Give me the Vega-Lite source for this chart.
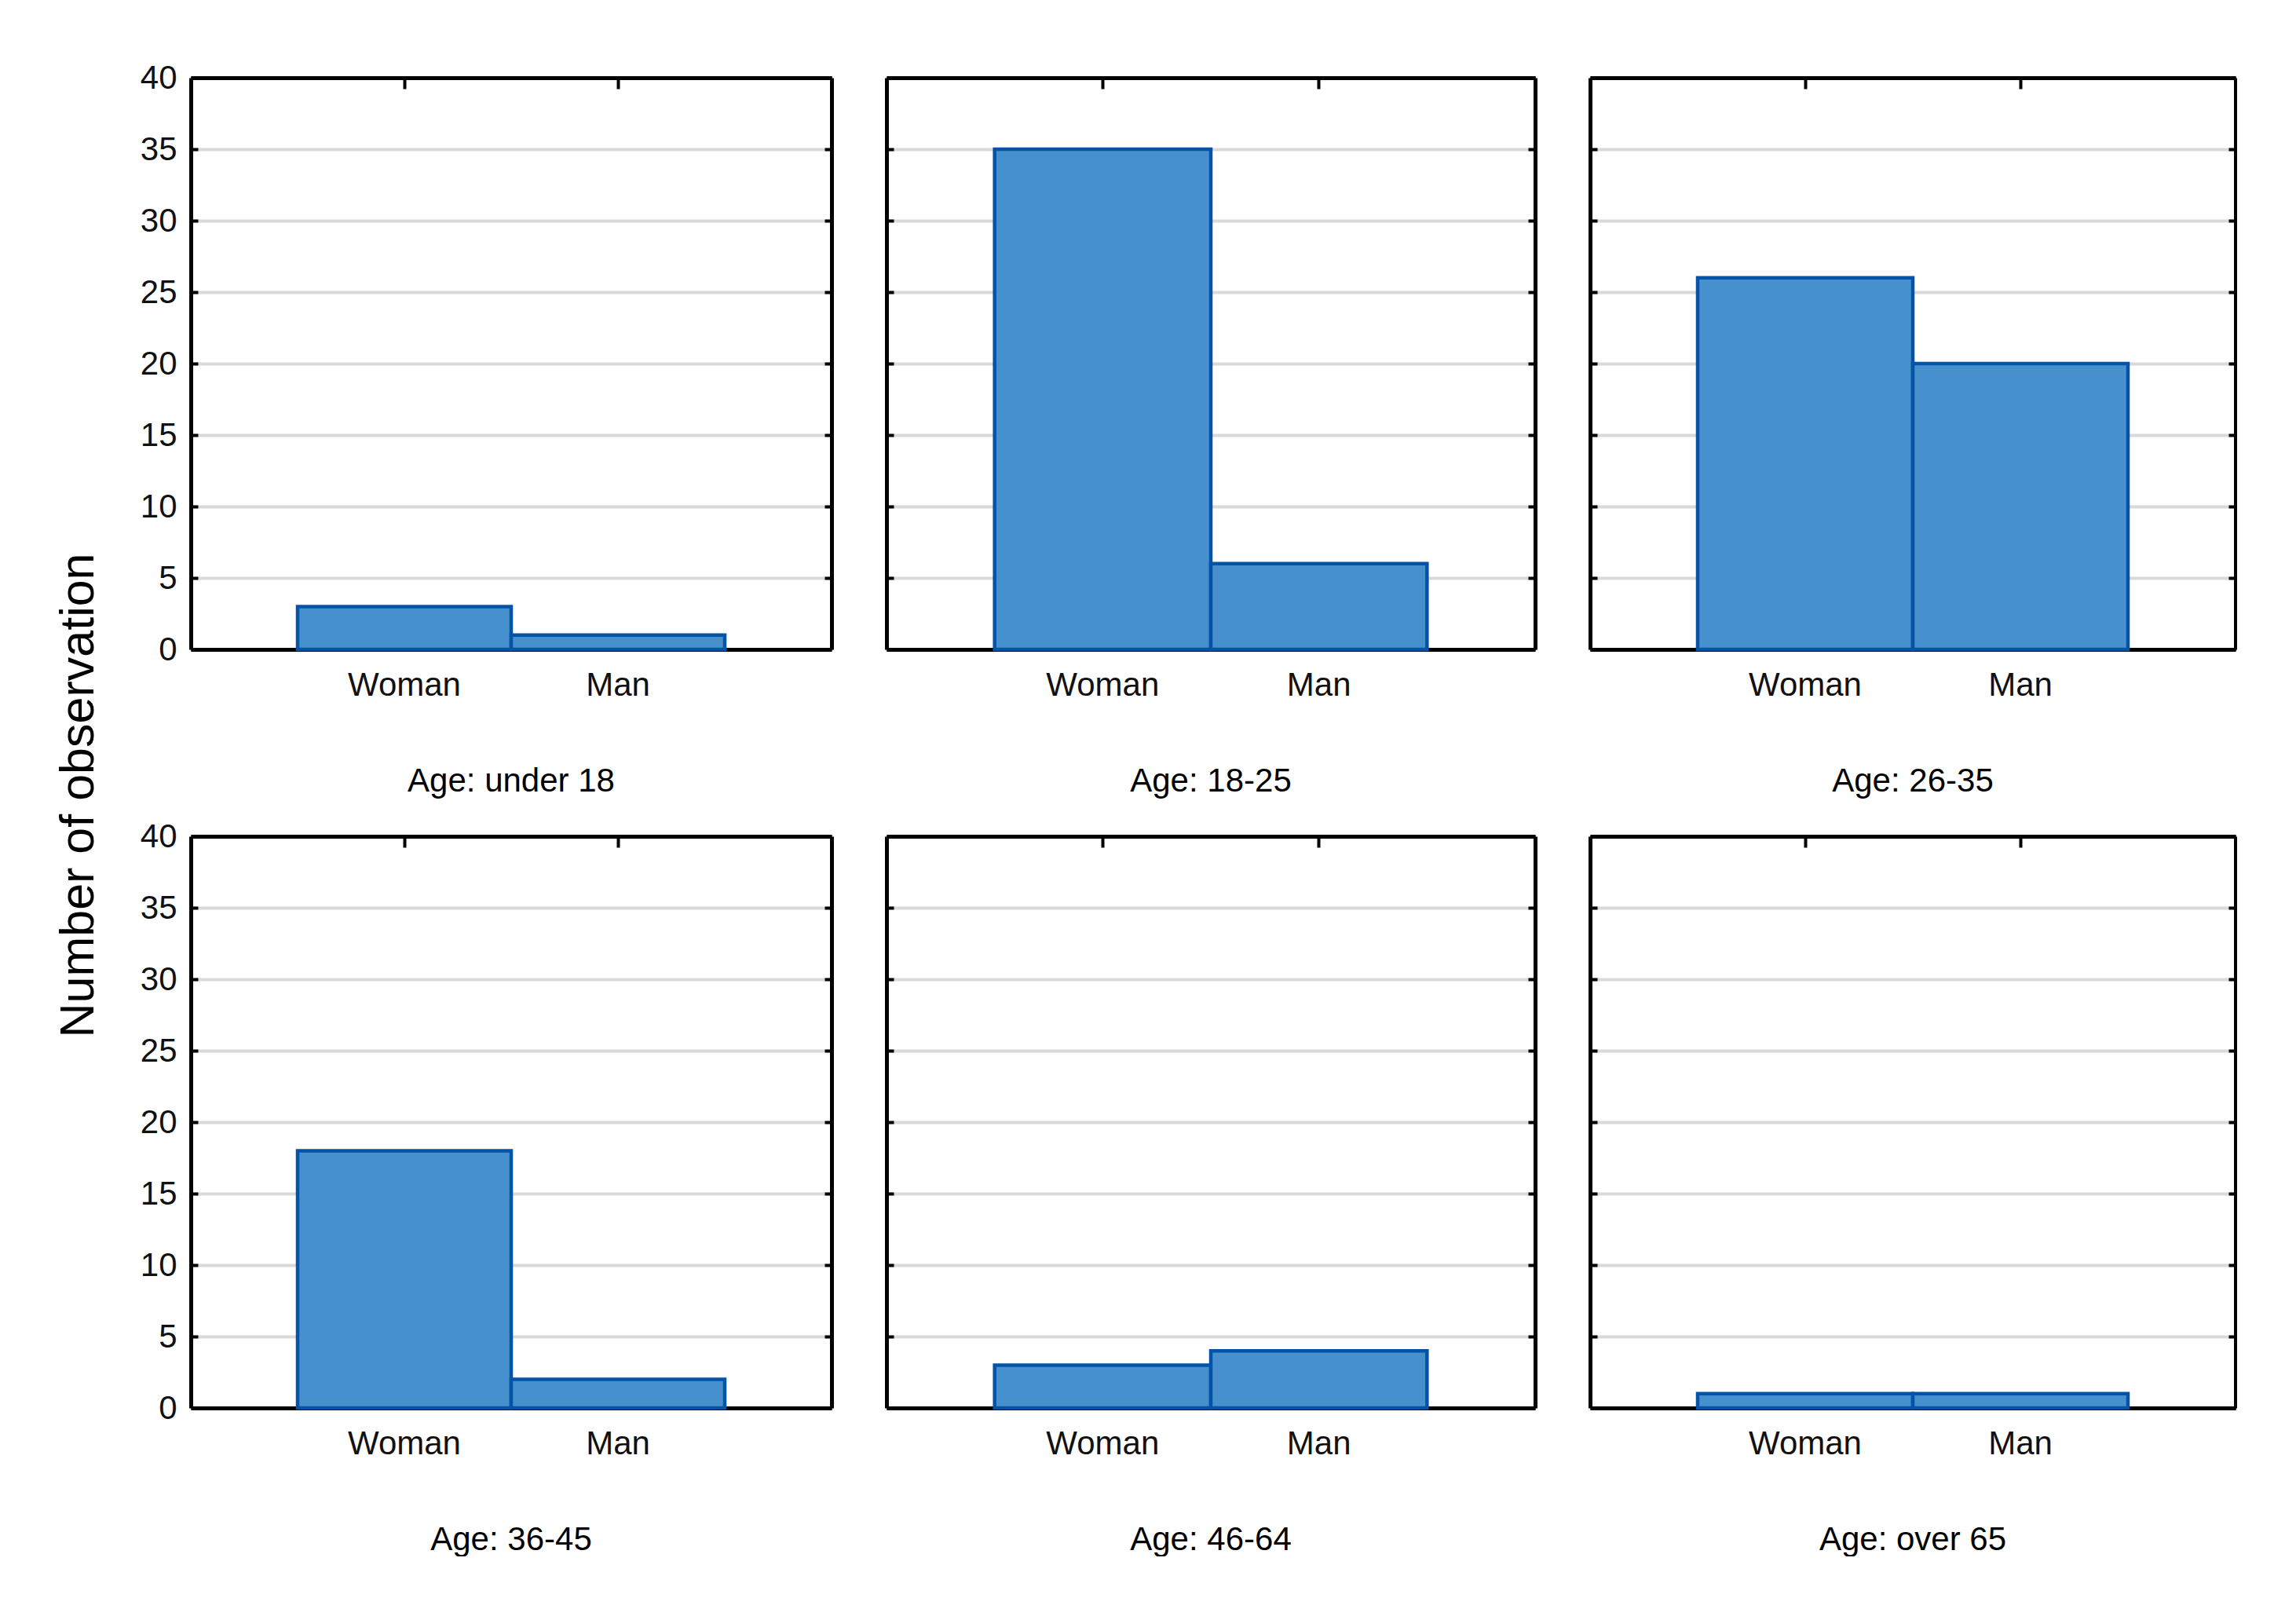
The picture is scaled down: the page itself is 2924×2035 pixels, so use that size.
{
  "$schema": "https://vega.github.io/schema/vega-lite/v6.json",
  "background": "white",
  "padding": {"left": 70, "top": 78, "right": 0, "bottom": 0},
  "title": {"text": "Number of observation", "orient": "left", "anchor": "middle", "font": "Liberation Sans", "fontSize": 61, "fontWeight": "normal", "color": "#000", "offset": 46, "dx": 17},
  "data": {"values": [
    {"age": "under 18", "gender": "Woman", "count": 3},
    {"age": "under 18", "gender": "Man", "count": 1},
    {"age": "18-25", "gender": "Woman", "count": 35},
    {"age": "18-25", "gender": "Man", "count": 6},
    {"age": "26-35", "gender": "Woman", "count": 26},
    {"age": "26-35", "gender": "Man", "count": 20},
    {"age": "36-45", "gender": "Woman", "count": 18},
    {"age": "36-45", "gender": "Man", "count": 2},
    {"age": "46-64", "gender": "Woman", "count": 3},
    {"age": "46-64", "gender": "Man", "count": 4},
    {"age": "over 65", "gender": "Woman", "count": 1},
    {"age": "over 65", "gender": "Man", "count": 1}
  ]},
  "spacing": 28,
  "vconcat": [
    {"hconcat": [
      {"title": "Age: under 18", "transform": [{"filter": "datum.age === 'under 18'"}], "width": 816, "height": 728,
       "layer": [
        {"mark": {"type": "bar", "fill": "#4690cd", "stroke": "#0553a6", "strokeWidth": 4.5},
         "encoding": {"x": {"field": "gender", "type": "nominal", "sort": ["Woman", "Man"], "scale": {"paddingInner": 0, "paddingOuter": 0.5}, "axis": {"orient": "bottom"}},
                      "y": {"field": "count", "type": "quantitative", "scale": {"domain": [0, 40], "nice": false}, "axis": {"orient": "left", "values": [0,5,10,15,20,25,30,35,40], "labels": true}}}},
        {"mark": {"type": "bar", "opacity": 0},
         "encoding": {"x": {"field": "gender", "type": "nominal", "sort": ["Woman", "Man"], "axis": {"orient": "top"}},
                      "y": {"field": "count", "type": "quantitative", "axis": {"orient": "right", "values": [0,5,10,15,20,25,30,35,40]}}}}
       ],
       "resolve": {"axis": {"x": "independent", "y": "independent"}}},
      {"title": "Age: 18-25", "transform": [{"filter": "datum.age === '18-25'"}], "width": 826, "height": 728,
       "layer": [
        {"mark": {"type": "bar", "fill": "#4690cd", "stroke": "#0553a6", "strokeWidth": 4.5},
         "encoding": {"x": {"field": "gender", "type": "nominal", "sort": ["Woman", "Man"], "scale": {"paddingInner": 0, "paddingOuter": 0.5}, "axis": {"orient": "bottom"}},
                      "y": {"field": "count", "type": "quantitative", "scale": {"domain": [0, 40], "nice": false}, "axis": {"orient": "left", "values": [0,5,10,15,20,25,30,35,40], "labels": false}}}},
        {"mark": {"type": "bar", "opacity": 0},
         "encoding": {"x": {"field": "gender", "type": "nominal", "sort": ["Woman", "Man"], "axis": {"orient": "top"}},
                      "y": {"field": "count", "type": "quantitative", "axis": {"orient": "right", "values": [0,5,10,15,20,25,30,35,40]}}}}
       ],
       "resolve": {"axis": {"x": "independent", "y": "independent"}}},
      {"title": "Age: 26-35", "transform": [{"filter": "datum.age === '26-35'"}], "width": 822, "height": 728,
       "layer": [
        {"mark": {"type": "bar", "fill": "#4690cd", "stroke": "#0553a6", "strokeWidth": 4.5},
         "encoding": {"x": {"field": "gender", "type": "nominal", "sort": ["Woman", "Man"], "scale": {"paddingInner": 0, "paddingOuter": 0.5}, "axis": {"orient": "bottom"}},
                      "y": {"field": "count", "type": "quantitative", "scale": {"domain": [0, 40], "nice": false}, "axis": {"orient": "left", "values": [0,5,10,15,20,25,30,35,40], "labels": false}}}},
        {"mark": {"type": "bar", "opacity": 0},
         "encoding": {"x": {"field": "gender", "type": "nominal", "sort": ["Woman", "Man"], "axis": {"orient": "top"}},
                      "y": {"field": "count", "type": "quantitative", "axis": {"orient": "right", "values": [0,5,10,15,20,25,30,35,40]}}}}
       ],
       "resolve": {"axis": {"x": "independent", "y": "independent"}}}
    ], "spacing": 66},
    {"hconcat": [
      {"title": "Age: 36-45", "transform": [{"filter": "datum.age === '36-45'"}], "width": 816, "height": 728,
       "layer": [
        {"mark": {"type": "bar", "fill": "#4690cd", "stroke": "#0553a6", "strokeWidth": 4.5},
         "encoding": {"x": {"field": "gender", "type": "nominal", "sort": ["Woman", "Man"], "scale": {"paddingInner": 0, "paddingOuter": 0.5}, "axis": {"orient": "bottom"}},
                      "y": {"field": "count", "type": "quantitative", "scale": {"domain": [0, 40], "nice": false}, "axis": {"orient": "left", "values": [0,5,10,15,20,25,30,35,40], "labels": true}}}},
        {"mark": {"type": "bar", "opacity": 0},
         "encoding": {"x": {"field": "gender", "type": "nominal", "sort": ["Woman", "Man"], "axis": {"orient": "top"}},
                      "y": {"field": "count", "type": "quantitative", "axis": {"orient": "right", "values": [0,5,10,15,20,25,30,35,40]}}}}
       ],
       "resolve": {"axis": {"x": "independent", "y": "independent"}}},
      {"title": "Age: 46-64", "transform": [{"filter": "datum.age === '46-64'"}], "width": 826, "height": 728,
       "layer": [
        {"mark": {"type": "bar", "fill": "#4690cd", "stroke": "#0553a6", "strokeWidth": 4.5},
         "encoding": {"x": {"field": "gender", "type": "nominal", "sort": ["Woman", "Man"], "scale": {"paddingInner": 0, "paddingOuter": 0.5}, "axis": {"orient": "bottom"}},
                      "y": {"field": "count", "type": "quantitative", "scale": {"domain": [0, 40], "nice": false}, "axis": {"orient": "left", "values": [0,5,10,15,20,25,30,35,40], "labels": false}}}},
        {"mark": {"type": "bar", "opacity": 0},
         "encoding": {"x": {"field": "gender", "type": "nominal", "sort": ["Woman", "Man"], "axis": {"orient": "top"}},
                      "y": {"field": "count", "type": "quantitative", "axis": {"orient": "right", "values": [0,5,10,15,20,25,30,35,40]}}}}
       ],
       "resolve": {"axis": {"x": "independent", "y": "independent"}}},
      {"title": "Age: over 65", "transform": [{"filter": "datum.age === 'over 65'"}], "width": 822, "height": 728,
       "layer": [
        {"mark": {"type": "bar", "fill": "#4690cd", "stroke": "#0553a6", "strokeWidth": 4.5},
         "encoding": {"x": {"field": "gender", "type": "nominal", "sort": ["Woman", "Man"], "scale": {"paddingInner": 0, "paddingOuter": 0.5}, "axis": {"orient": "bottom"}},
                      "y": {"field": "count", "type": "quantitative", "scale": {"domain": [0, 40], "nice": false}, "axis": {"orient": "left", "values": [0,5,10,15,20,25,30,35,40], "labels": false}}}},
        {"mark": {"type": "bar", "opacity": 0},
         "encoding": {"x": {"field": "gender", "type": "nominal", "sort": ["Woman", "Man"], "axis": {"orient": "top"}},
                      "y": {"field": "count", "type": "quantitative", "axis": {"orient": "right", "values": [0,5,10,15,20,25,30,35,40]}}}}
       ],
       "resolve": {"axis": {"x": "independent", "y": "independent"}}}
    ], "spacing": 66}
  ],
  "config": {
    "view": {"stroke": null},
    "axis": {"title": null, "domainColor": "#000", "domainWidth": 5, "tickColor": "#000", "tickWidth": 4, "labelFont": "Liberation Sans", "labelFontSize": 42, "labelColor": "#111", "minExtent": 0, "grid": false, "labelAngle": 0},
    "axisBottom": {"tickSize": -14, "labelPadding": 39, "zindex": 1},
    "axisTop": {"tickSize": -14, "labels": false},
    "axisLeft": {"tickSize": -9, "labelPadding": 27, "grid": true, "gridColor": "#d9d9d9", "gridWidth": 4},
    "axisRight": {"tickSize": -9, "labels": false},
    "title": {"font": "Liberation Sans", "fontSize": 42, "fontWeight": "normal", "color": "#000", "orient": "bottom", "offset": 82}
  }
}
